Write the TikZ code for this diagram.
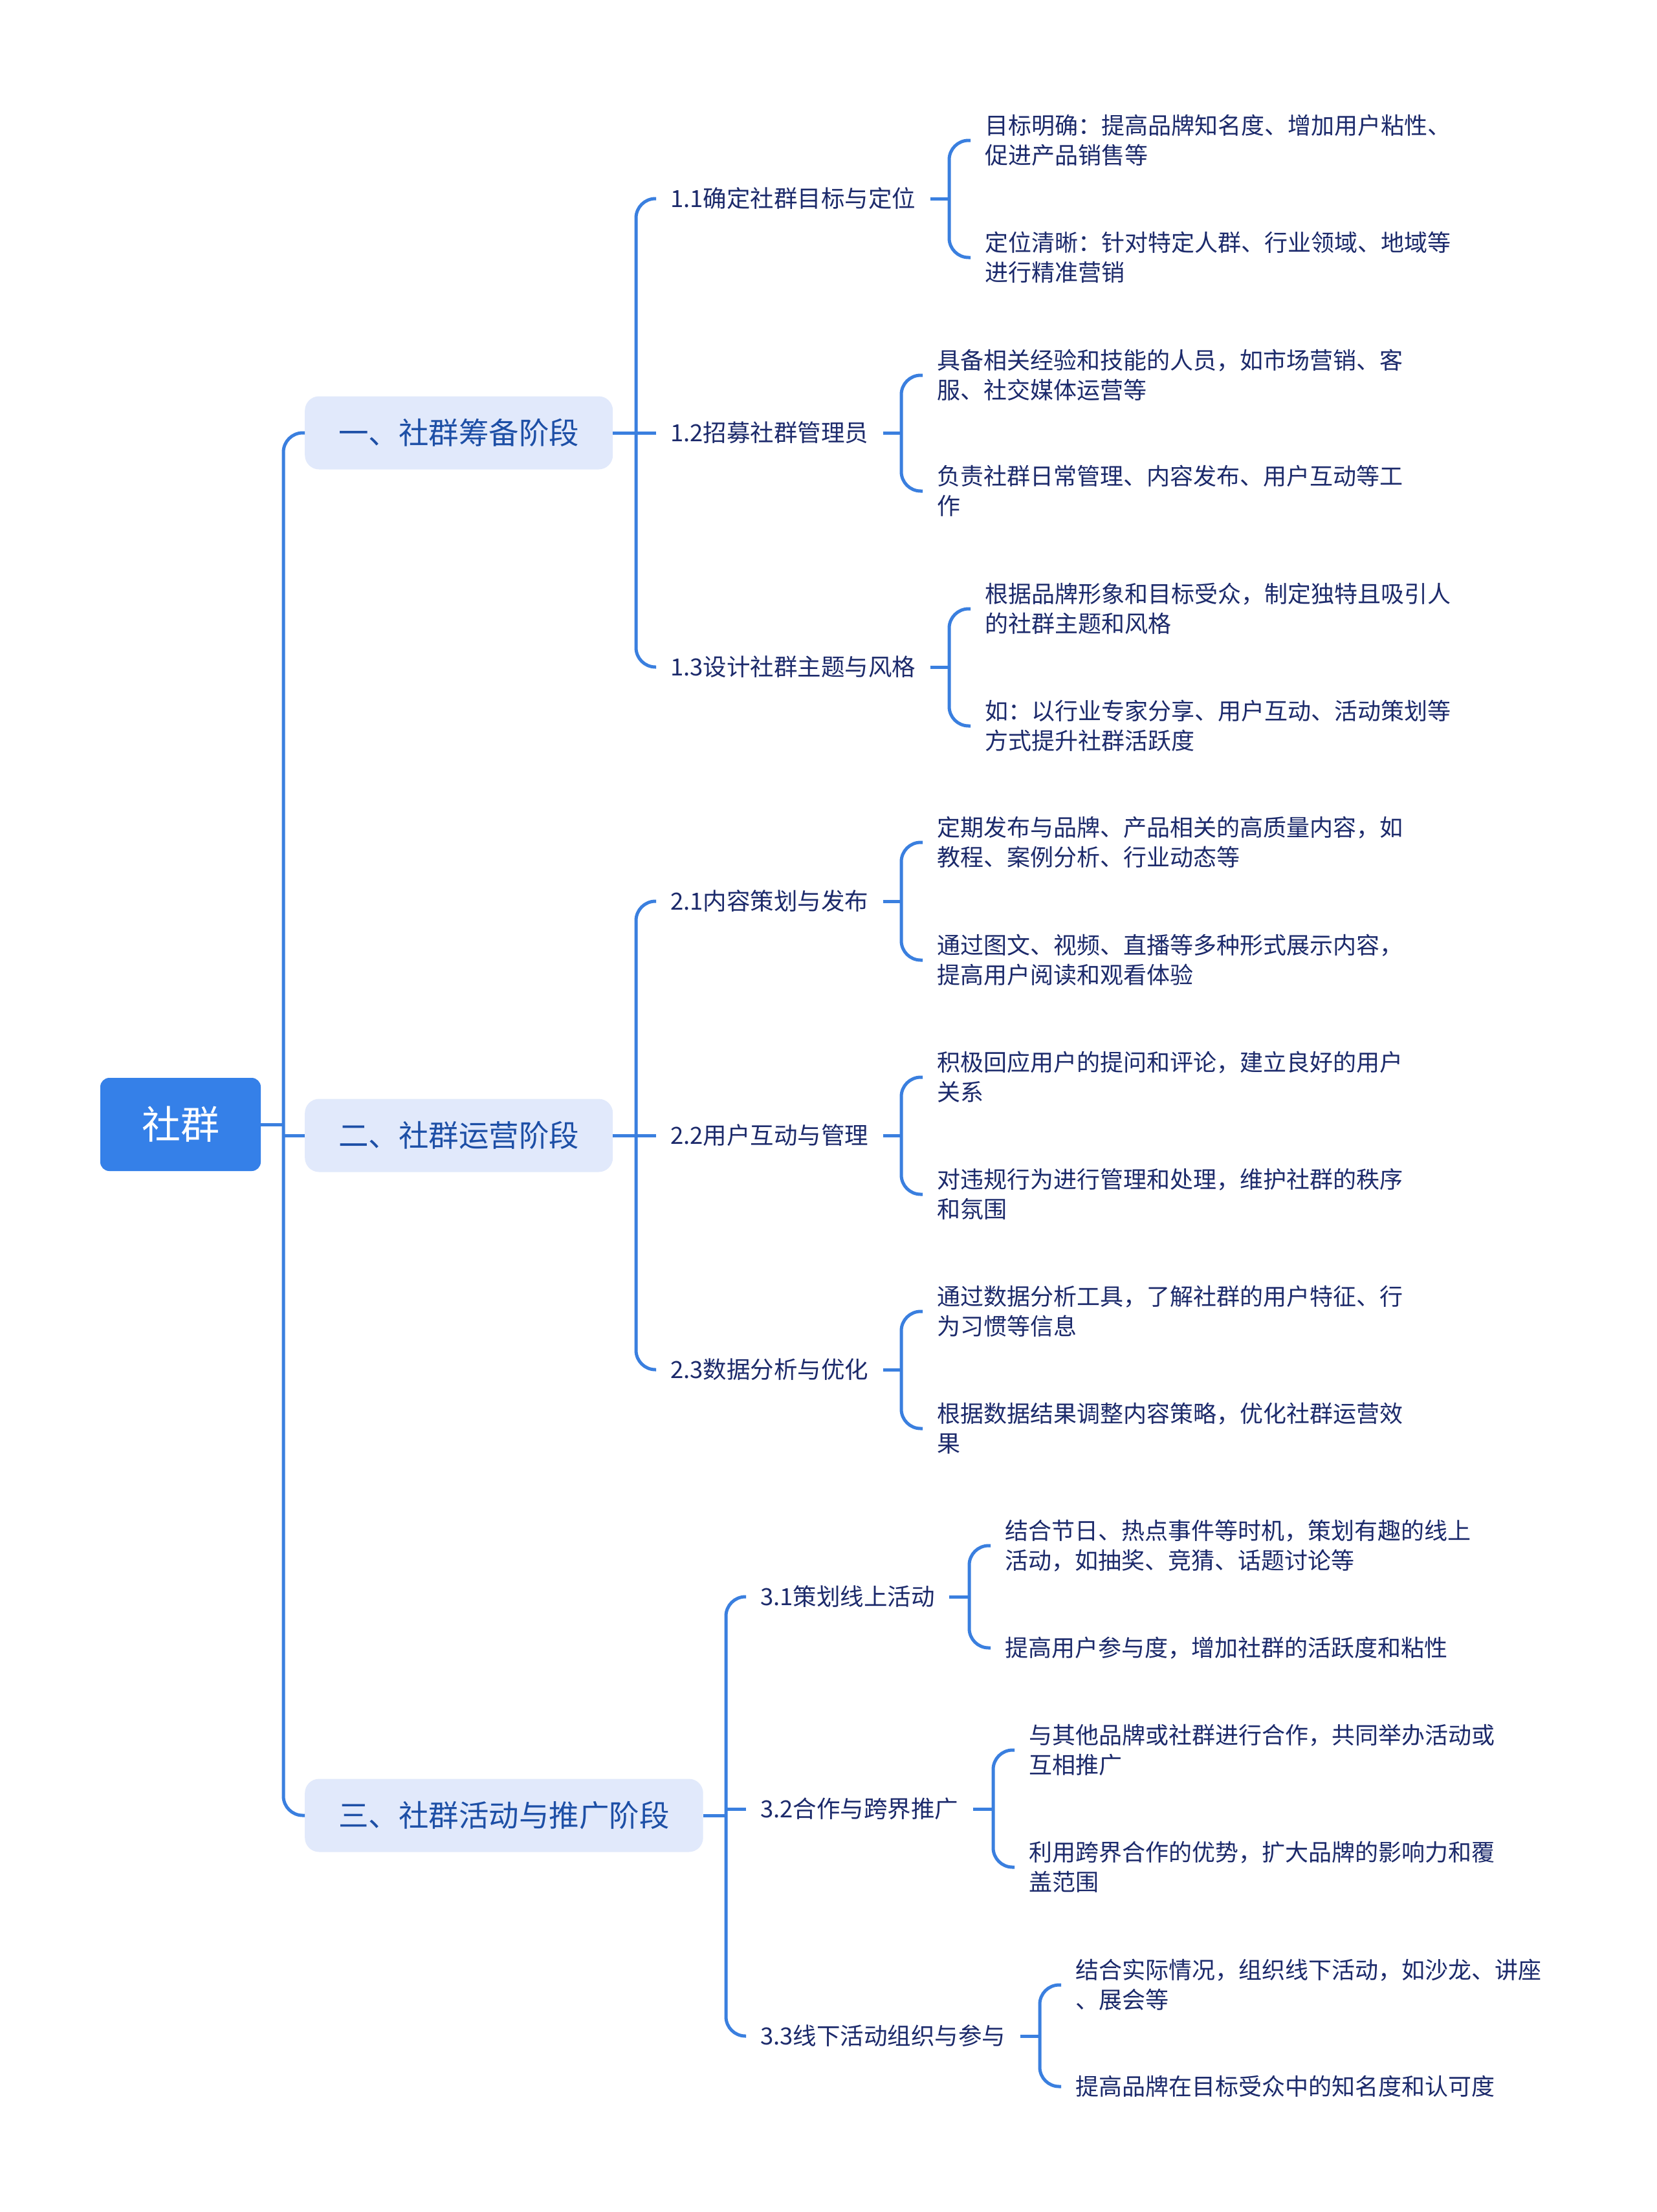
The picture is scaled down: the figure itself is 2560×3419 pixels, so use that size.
\documentclass[tikz,border=0pt]{standalone}
\usepackage{fontspec}
\setmainfont{Noto Sans CJK SC}
\definecolor{lineblue}{HTML}{3A7FDF}
\definecolor{rootblue}{HTML}{3580E8}
\definecolor{lonefill}{HTML}{E1E9FB}
\definecolor{lonetext}{HTML}{1D4FA6}
\definecolor{navy}{HTML}{1C2A6B}
\tikzset{
  conn/.style={draw=lineblue, line width=5pt, rounded corners=30pt},
  rootbox/.style={fill=rootblue, rounded corners=14pt, text=white,
    font=\fontsize{60}{72}\selectfont, minimum width=248pt, minimum height=144pt, inner sep=0pt},
  lonebox/.style={fill=lonefill, rounded corners=22pt, text=lonetext,
    font=\fontsize{46.5}{56}\selectfont, minimum height=113pt, inner xsep=52pt, inner ysep=0pt, anchor=west},
  ltwolab/.style={text=navy, font=\fontsize{36.5}{46}\selectfont, inner xsep=22pt, inner ysep=4pt, anchor=west},
  leaf/.style={text=navy, font=\fontsize{36}{46}\selectfont, align=left, inner xsep=22pt, inner ysep=0pt, anchor=west}
}
\begin{document}
\begin{tikzpicture}[x=1pt,y=-1pt]
\useasboundingbox (0,0) rectangle (2560,3419);
\fill[white] (0,0) rectangle (2560,3419);

% root and level 1
\node[rootbox] (root) at (279,1738) {社群};
\node[lonebox] (la) at (471,669) {一、社群筹备阶段};
\node[lonebox] (lb) at (471,1755) {二、社群运营阶段};
\node[lonebox] (lc) at (471,2806) {三、社群活动与推广阶段};

% level 2
\node[ltwolab] (aa) at (1014,307) {1.1确定社群目标与定位};
\node[ltwolab] (ab) at (1014,669) {1.2招募社群管理员};
\node[ltwolab] (ac) at (1014,1031) {1.3设计社群主题与风格};
\node[ltwolab] (ba) at (1014,1393) {2.1内容策划与发布};
\node[ltwolab] (bb) at (1014,1755) {2.2用户互动与管理};
\node[ltwolab] (bc) at (1014,2117) {2.3数据分析与优化};
\node[ltwolab] (ca) at (1153,2468) {3.1策划线上活动};
\node[ltwolab] (cb) at (1153,2796) {3.2合作与跨界推广};
\node[ltwolab] (cc) at (1153,3147) {3.3线下活动组织与参与};

% leaves
\node[leaf] (aa1) at (1500,217) {目标明确：提高品牌知名度、增加用户粘性、\\促进产品销售等};
\node[leaf] (aa2) at (1500,398) {定位清晰：针对特定人群、行业领域、地域等\\进行精准营销};
\node[leaf] (ab1) at (1426,580) {具备相关经验和技能的人员，如市场营销、客\\服、社交媒体运营等};
\node[leaf] (ab2) at (1426,759) {负责社群日常管理、内容发布、用户互动等工\\作};
\node[leaf] (ac1) at (1500,941) {根据品牌形象和目标受众，制定独特且吸引人\\的社群主题和风格};
\node[leaf] (ac2) at (1500,1122) {如：以行业专家分享、用户互动、活动策划等\\方式提升社群活跃度};
\node[leaf] (ba1) at (1426,1302) {定期发布与品牌、产品相关的高质量内容，如\\教程、案例分析、行业动态等};
\node[leaf] (ba2) at (1426,1484) {通过图文、视频、直播等多种形式展示内容，\\提高用户阅读和观看体验};
\node[leaf] (bb1) at (1426,1665) {积极回应用户的提问和评论，建立良好的用户\\关系};
\node[leaf] (bb2) at (1426,1846) {对违规行为进行管理和处理，维护社群的秩序\\和氛围};
\node[leaf] (bc1) at (1426,2027) {通过数据分析工具，了解社群的用户特征、行\\为习惯等信息};
\node[leaf] (bc2) at (1426,2208) {根据数据结果调整内容策略，优化社群运营效\\果};
\node[leaf] (ca1) at (1531,2389) {结合节日、热点事件等时机，策划有趣的线上\\活动，如抽奖、竞猜、话题讨论等};
\node[leaf] (ca2) at (1531,2547) {提高用户参与度，增加社群的活跃度和粘性};
\node[leaf] (cb1) at (1568,2705) {与其他品牌或社群进行合作，共同举办活动或\\互相推广};
\node[leaf] (cb2) at (1568,2886) {利用跨界合作的优势，扩大品牌的影响力和覆\\盖范围};
\node[leaf] (cc1) at (1640,3068) {结合实际情况，组织线下活动，如沙龙、讲座\\、展会等};
\node[leaf] (cc2) at (1640,3225) {提高品牌在目标受众中的知名度和认可度};

% root connectors
\draw[conn] (root.east) -- ([xshift=-33pt]la.west |- root.east);
\draw[conn] (la.west) -- ++(-33,0) |- (lc.west);
\draw[conn] (lb.west) -- ++(-33,0);

% level 1 -> level 2
\foreach \p/\f/\m/\l in {la/aa/ab/ac, lb/ba/bb/bc, lc/ca/cb/cc}{
  \draw[conn] (\p.east) -- ([xshift=-31pt]\m.west |- \p.east);
  \draw[conn] (\f.west) -- ++(-31,0) |- (\l.west);
  \draw[conn] (\m.west) -- ++(-31,0);
}

% level 2 -> leaves
\foreach \n in {aa,ab,ac,ba,bb,bc,ca,cb,cc}{
  \draw[conn] (\n.east) -- ([xshift=-33pt]\n1.west |- \n.east);
  \draw[conn] (\n1.west) -- ++(-33,0) |- (\n2.west);
}
\end{tikzpicture}
\end{document}
